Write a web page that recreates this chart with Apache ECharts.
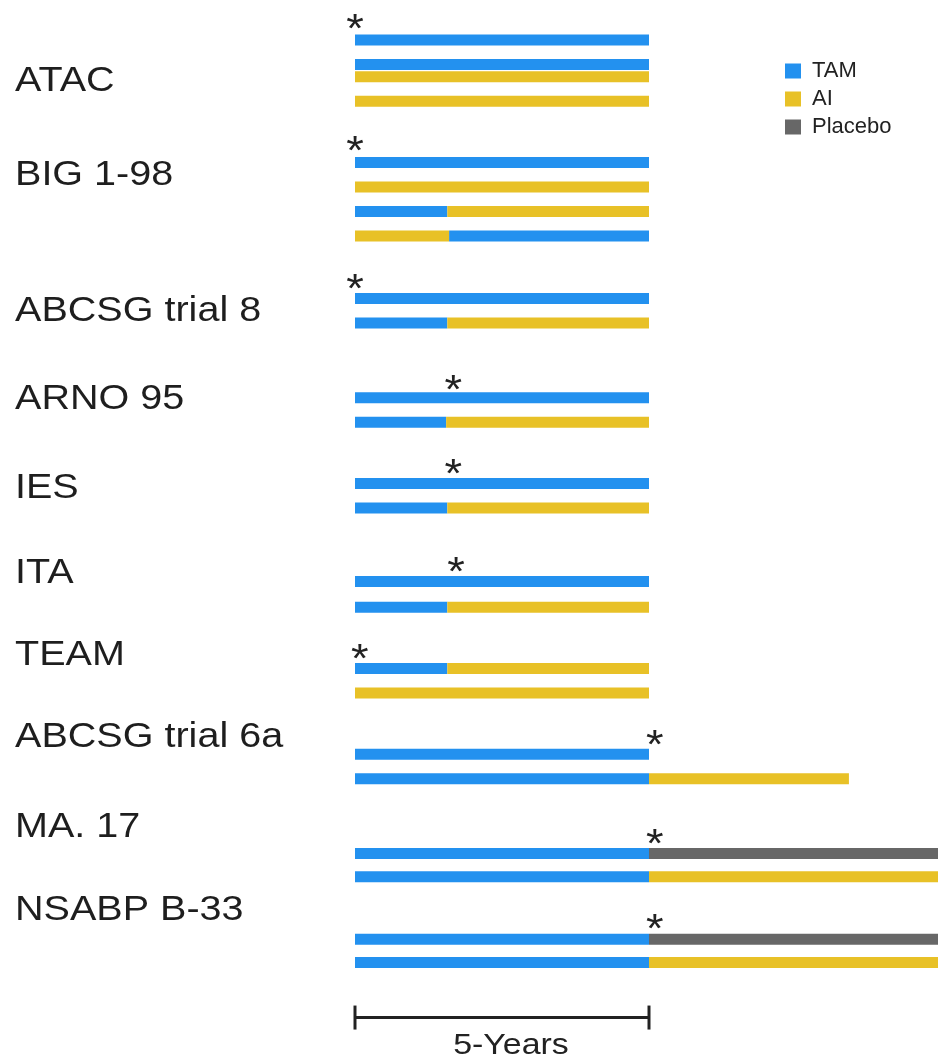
<!DOCTYPE html>
<html>
<head>
<meta charset="utf-8">
<script src="https://cdn.jsdelivr.net/npm/echarts@6/dist/echarts.min.js"></script>
<style>
html,body{margin:0;padding:0;background:#fff;}
#chart{width:938px;height:1057px;}
</style>
</head>
<body>
<div id="chart"></div>
<script>
// ---- data ----
const trials = ['ATAC','BIG 1-98','ABCSG trial 8','ARNO 95','IES','ITA','TEAM','ABCSG trial 6a','MA. 17','NSABP B-33'];
// vertical position of each trial label (in half-lane units)
const labelPos = [3.2, 10.9, 22.0, 29.2, 36.4, 43.4, 50.1, 56.8, 64.1, 70.9];
// asterisk (randomisation point) per trial: years and vertical position
const starYears = [0, 0, 0, 1.67, 1.67, 1.72, 0.08, 5.1, 5.1, 5.1];
const starPos   = [-1.63, 8.3, 19.6, 27.8, 34.7, 42.7, 49.8, 56.8, 64.9, 71.8];
// treatment segments: [arm position, start year, end year]
const tamSegments = [
  [0,0,5],[2,0,5],
  [10,0,5],[14,0,1.57],[16,1.6,5],
  [21.1,0,5],[23.1,0,1.57],
  [29.2,0,5],[31.2,0,1.55],
  [36.2,0,5],[38.2,0,1.57],
  [44.2,0,5],[46.3,0,1.57],
  [51.3,0,1.57],
  [58.3,0,5],[60.3,0,5],
  [66.4,0,5],[68.3,0,5],
  [73.4,0,5],[75.3,0,5]
];
const aiSegments = [
  [3,0,5],[5,0,5],
  [12,0,5],[14,1.57,5],[16,0,1.6],
  [23.1,1.57,5],
  [31.2,1.55,5],
  [38.2,1.57,5],
  [46.3,1.57,5],
  [51.3,1.57,5],[53.3,0,5],
  [60.3,5,8.4],
  [68.3,5,10],
  [75.3,5,10]
];
const placeboSegments = [
  [66.4,5,10],
  [73.4,5,10]
];
// scale bar: [start year, end year, position]
const scaleBar = [[0, 5, 79.8]];
const scaleLabel = '5-Years';
const legendNames = ['TAM','AI','Placebo'];

// ---- style ----
const COLORS = {TAM:'#2391ef', AI:'#e8c127', Placebo:'#676767'};
const BAR_H = 11;
const FONT = '"Liberation Sans", Arial, Helvetica, sans-serif';
const STRETCH = 1.13;

const chart = echarts.init(document.getElementById('chart'), null, {renderer:'canvas'});

function barRender(params, api){
  const p0 = api.coord([api.value(1), api.value(0)]);
  const p1 = api.coord([api.value(2), api.value(0)]);
  return {
    type:'rect',
    shape:{x:p0[0], y:p0[1]-BAR_H/2, width:p1[0]-p0[0], height:BAR_H},
    style:{fill: api.visual('color')}
  };
}
function barSeries(name, data){
  return {
    name, type:'custom', data, renderItem: barRender,
    encode:{x:[1,2], y:0}, clip:false,
    itemStyle:{color: COLORS[name]},
    silent:true
  };
}

const option = {
  animation:false,
  backgroundColor:'#ffffff',
  grid:{left:355, right:0, top:3.25, height:1053.5},
  xAxis:{type:'value', min:0, max:9.915, show:false},
  yAxis:{type:'value', min:-3, max:83, inverse:true, show:false},
  legend:{
    data: legendNames,
    orient:'vertical',
    left:785, top:60, padding:0,
    icon:'rect', itemWidth:16, itemHeight:15, itemGap:6,
    textStyle:{fontSize:22, color:'#222', fontFamily:FONT, padding:[0,0,0,6]}
  },
  series:[
    barSeries('TAM', tamSegments),
    barSeries('AI', aiSegments),
    barSeries('Placebo', placeboSegments),
    {
      name:'labels', type:'custom', silent:true,
      data: labelPos.map(p => [0, p]),
      encode:{x:0, y:1},
      renderItem(params, api){
        const p = api.coord([0, api.value(1)]);
        return {
          type:'text', x:15, y:p[1]+2, scaleX:STRETCH,
          style:{text: trials[params.dataIndex], fontSize:35, fontFamily:FONT,
                 fill:'#1e1e1e', align:'left', verticalAlign:'middle'}
        };
      }
    },
    {
      name:'stars', type:'custom', silent:true,
      data: starYears.map((x,i) => [x, starPos[i]]),
      encode:{x:0, y:1},
      renderItem(params, api){
        const p = api.coord([api.value(0), api.value(1)]);
        return {
          type:'text', x:p[0], y:p[1]+11, scaleX:STRETCH,
          style:{text:'*', fontSize:40, fontFamily:FONT,
                 fill:'#222', align:'center', verticalAlign:'middle'}
        };
      }
    },
    {
      name:'scale', type:'custom', silent:true,
      data: scaleBar,
      encode:{x:[0,1], y:2},
      renderItem(params, api){
        const p0 = api.coord([api.value(0), api.value(2)]);
        const p1 = api.coord([api.value(1), api.value(2)]);
        const st = {stroke:'#222', lineWidth:3};
        return {
          type:'group',
          children:[
            {type:'line', shape:{x1:p0[0], y1:p0[1], x2:p1[0], y2:p1[1]}, style:st},
            {type:'line', shape:{x1:p0[0], y1:p0[1]-12, x2:p0[0], y2:p0[1]+12}, style:st},
            {type:'line', shape:{x1:p1[0], y1:p1[1]-12, x2:p1[0], y2:p1[1]+12}, style:st},
            {type:'text', x:(p0[0]+p1[0])/2+9, y:p0[1]+28, scaleX:STRETCH,
             style:{text:scaleLabel, fontSize:30, fontFamily:FONT, fill:'#222',
                    align:'center', verticalAlign:'middle'}}
          ]
        };
      }
    }
  ]
};
chart.setOption(option);
</script>
</body>
</html>
